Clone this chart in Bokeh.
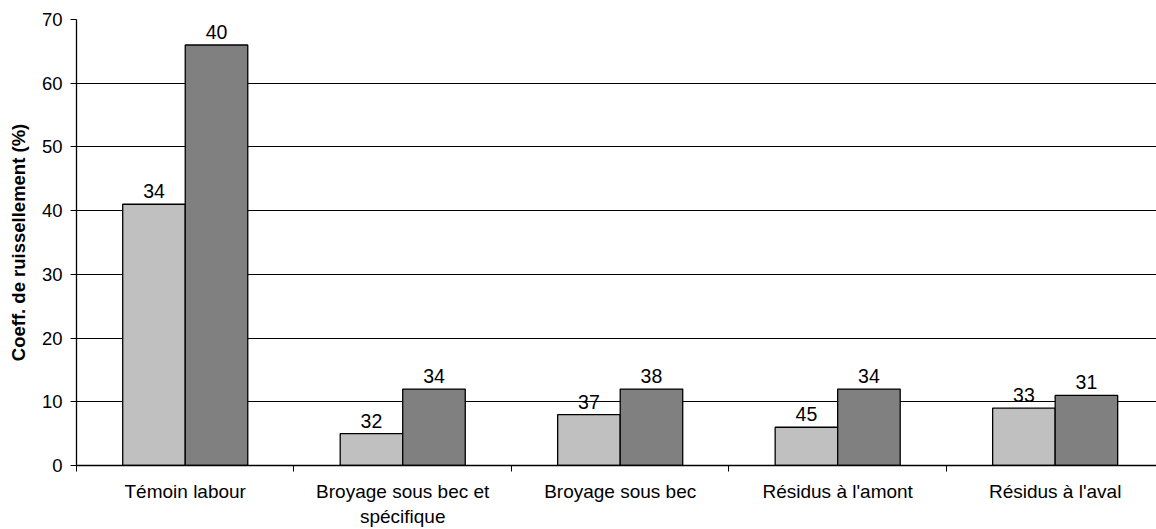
import numpy as np
from bokeh.plotting import figure
from bokeh.models import FixedTicker, Grid, ColumnDataSource
from bokeh.core.properties import value
from bokeh.embed import file_html
from bokeh.resources import INLINE

categories = ["Témoin labour", "Broyage sous bec et\nspécifique", "Broyage sous bec",
              "Résidus à l'amont", "Résidus à l'aval"]
light_values = [41, 5, 8, 6, 9]
dark_values = [66, 12, 12, 12, 11]
light_labels = ["34", "32", "37", "45", "33"]
dark_labels = ["40", "34", "38", "34", "31"]
y_ticks = [0, 10, 20, 30, 40, 50, 60, 70]

FONT = "Liberation Sans"
n = len(categories)
idx = np.arange(n)
bar_w = 0.2875
centers = idx + 0.5

p = figure(width=1156, height=529, output_backend="svg", toolbar_location=None,
           x_range=(0, 4.966), y_range=(0, 70),
           min_border_left=76, min_border_right=0, min_border_top=19, min_border_bottom=62)
p.outline_line_color = None
p.background_fill_color = "white"
p.border_fill_color = "white"

src_l = ColumnDataSource(dict(x=centers - bar_w / 2, top=light_values, lab=light_labels))
src_d = ColumnDataSource(dict(x=centers + bar_w / 2, top=dark_values, lab=dark_labels))

# grid
p.xgrid.visible = False
p.ygrid.ticker = FixedTicker(ticks=[10, 20, 30, 40, 50, 60])
p.ygrid.grid_line_color = "black"
p.ygrid.grid_line_width = 1
top_grid = Grid(dimension=1, ticker=FixedTicker(ticks=[70]), grid_line_color="#808080",
                grid_line_width=1.5)
p.add_layout(top_grid)

p.vbar(x="x", top="top", width=bar_w, bottom=0, source=src_l,
       fill_color="#C0C0C0", line_color="black", line_width=1.3)
p.vbar(x="x", top="top", width=bar_w, bottom=0, source=src_d,
       fill_color="#808080", line_color="black", line_width=1.3)

for src in (src_l, src_d):
    p.text(x="x", y="top", text="lab", source=src, text_align="center",
           text_baseline="alphabetic", y_offset=-13, text_font=value(FONT),
           text_font_size="19.5px", text_color="black")

# x axis
xa = p.xaxis[0]
xa.ticker = FixedTicker(ticks=list(centers), minor_ticks=list(range(n + 1)))
xa.major_label_overrides = {float(c): cat for c, cat in zip(centers, categories)}
xa.major_tick_line_color = None
xa.major_tick_out = 0
xa.major_tick_in = 0
xa.minor_tick_line_color = "black"
xa.minor_tick_out = 6
xa.minor_tick_in = 0
xa.axis_line_color = "black"
xa.axis_line_width = 1.3
xa.major_label_text_font = FONT
xa.major_label_text_font_size = "19px"
xa.major_label_text_color = "black"
xa.major_label_standoff = 9

# y axis
ya = p.yaxis[0]
ya.ticker = FixedTicker(ticks=y_ticks)
ya.minor_tick_line_color = None
ya.major_tick_out = 6
ya.major_tick_in = 0
ya.major_tick_line_color = "black"
ya.axis_line_color = "black"
ya.axis_line_width = 1.3
ya.major_label_text_font = FONT
ya.major_label_text_font_size = "18.5px"
ya.major_label_text_color = "black"
ya.major_label_standoff = 8
ya.axis_label = "Coeff. de ruissellement (%)"
ya.axis_label_text_font = FONT
ya.axis_label_text_font_style = "bold"
ya.axis_label_text_font_size = "18.5px"
ya.axis_label_text_color = "black"
ya.axis_label_standoff = 10

open("out.html", "w").write(file_html(p, INLINE))
